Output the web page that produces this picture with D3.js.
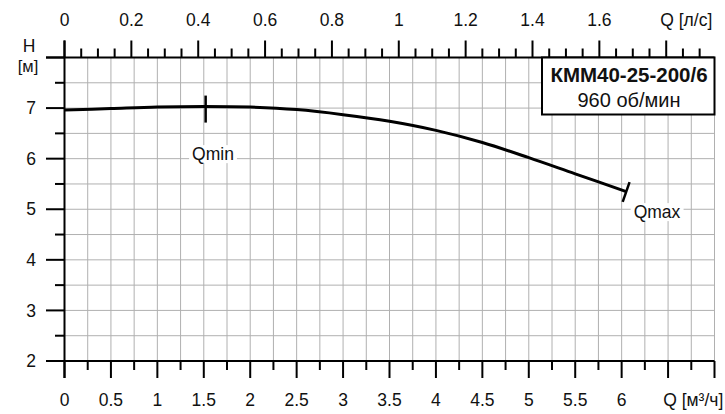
<!DOCTYPE html>
<html><head><meta charset="utf-8">
<script src="https://cdn.jsdelivr.net/npm/d3@7"></script>
<style>body{margin:0;background:#fff}svg{display:block}text{font-family:"Liberation Sans",Arial,sans-serif;fill:#111}</style>
</head><body><svg id="c" width="725" height="414"></svg>
<script>
// Data
const flowM3h = [0, 0.5, 1.0, 1.5, 2.0, 2.5, 3.0, 3.5, 4.0, 4.5, 5.0, 5.5, 6.05];
const headM   = [6.96, 6.99, 7.02, 7.03, 7.02, 6.97, 6.87, 6.74, 6.56, 6.32, 6.02, 5.70, 5.35];
const qMin = 1.52, qMax = 6.05;
const bottomTicks = [0, 0.5, 1, 1.5, 2, 2.5, 3, 3.5, 4, 4.5, 5, 5.5, 6];
const topTicks = [0, 0.2, 0.4, 0.6, 0.8, 1, 1.2, 1.4, 1.6];
const yTicks = [2, 3, 4, 5, 6, 7];
const titleLines = ["КММ40-25-200/6", "960 об/мин"];

const svg = d3.select("#c");
const x = d3.scaleLinear().domain([0, 7]).range([64.5, 714.5]);
const xl = d3.scaleLinear().domain([0, 7/3.6]).range([64.5, 714.5]);
const y = d3.scaleLinear().domain([2, 8]).range([361, 57.5]);

// grid
const g = svg.append("g").attr("stroke", "#b0b0b0").attr("stroke-width", 1);
d3.range(1, 29).forEach(i => { const v = i*0.25;
  g.append("line").attr("x1", x(v)).attr("x2", x(v)).attr("y1", y(8)).attr("y2", y(2)); });
d3.range(1, 12).forEach(i => { const v = 2 + i*0.5;
  g.append("line").attr("x1", x(0)).attr("x2", x(7)).attr("y1", y(v)).attr("y2", y(v)); });

// axes
const ax = svg.append("g").attr("stroke", "#000").attr("stroke-width", 2);
ax.append("line").attr("x1", 46).attr("x2", x(7)).attr("y1", y(2)).attr("y2", y(2));
ax.append("line").attr("x1", 46).attr("x2", x(7)).attr("y1", y(8)).attr("y2", y(8));
ax.append("line").attr("x1", x(0)).attr("x2", x(0)).attr("y1", y(8)-17).attr("y2", y(2)+17);
d3.range(0, 29).forEach(i => { const v = i*0.25; const major = i % 2 === 0;
  ax.append("line").attr("x1", x(v)).attr("x2", x(v)).attr("y1", y(2)).attr("y2", y(2) + (major ? 17 : 9)); });
d3.range(0, 39).forEach(i => { const v = i*0.05; const major = i % 4 === 0;
  ax.append("line").attr("x1", xl(v)).attr("x2", xl(v)).attr("y1", y(8)).attr("y2", y(8) - (major ? 17 : 9)); });
d3.range(0, 13).forEach(i => { const v = 2 + i*0.5; const major = i % 2 === 0;
  ax.append("line").attr("x1", x(0)).attr("x2", x(0) - (major ? 18.5 : 9.5)).attr("y1", y(v)).attr("y2", y(v)); });

const fs = 17.5;
bottomTicks.forEach(v => svg.append("text").attr("x", x(v)).attr("y", 400).attr("dy", "0.35em")
  .attr("text-anchor", "middle").attr("font-size", fs).text(v));
svg.append("text").attr("x", x(6.75) + 2).attr("y", 400).attr("dy", "0.35em").attr("text-anchor", "middle")
  .attr("font-size", fs).text("Q [м³/ч]");
topTicks.forEach(v => svg.append("text").attr("x", xl(v)).attr("y", 20).attr("dy", "0.35em")
  .attr("text-anchor", "middle").attr("font-size", fs).text(v));
svg.append("text").attr("x", xl(1.86)).attr("y", 20).attr("dy", "0.35em").attr("text-anchor", "middle")
  .attr("font-size", fs).text("Q [л/с]");
yTicks.forEach(v => svg.append("text").attr("x", 36).attr("y", y(v)).attr("dy", "0.35em")
  .attr("text-anchor", "end").attr("font-size", fs).text(v));
svg.append("text").attr("x", 29).attr("y", 46).attr("dy", "0.35em").attr("text-anchor", "middle").attr("font-size", fs).text("H");
svg.append("text").attr("x", 28).attr("y", 66).attr("dy", "0.35em").attr("text-anchor", "middle").attr("font-size", fs-1).text("[м]");

// curve
const pts = flowM3h.map((q, i) => [q, headM[i]]);
const line = d3.line().x(d => x(d[0])).y(d => y(d[1])).curve(d3.curveCatmullRom);
svg.append("path").attr("d", line(pts)).attr("fill", "none").attr("stroke", "#000").attr("stroke-width", 3);

// Qmin marker
const hAt = q => { const i = Math.min(d3.bisectRight(flowM3h, q) - 1, flowM3h.length - 2);
  const t = (q - flowM3h[i]) / (flowM3h[i+1] - flowM3h[i]); return headM[i] + t*(headM[i+1]-headM[i]); };
const qmx = x(qMin), qmy = y(hAt(qMin));
svg.append("line").attr("x1", qmx).attr("x2", qmx).attr("y1", qmy - 11).attr("y2", qmy + 16)
  .attr("stroke", "#000").attr("stroke-width", 2.5);
// Qmax marker perpendicular
const n = flowM3h.length;
const dx = x(flowM3h[n-1]) - x(flowM3h[n-2]), dy = y(headM[n-1]) - y(headM[n-2]);
const len = Math.hypot(dx, dy); const px = -dy/len, py = dx/len;
const ex = x(qMax), ey = y(headM[n-1]);
svg.append("line").attr("x1", ex - px*10).attr("y1", ey - py*10).attr("x2", ex + px*11).attr("y2", ey + py*11)
  .attr("stroke", "#000").attr("stroke-width", 2.5);

function label(txt, cx, cy) {
  const t = svg.append("text").attr("x", cx).attr("y", cy).attr("dy", "0.35em").attr("text-anchor", "middle")
    .attr("font-size", fs).text(txt);
  const b = t.node().getBBox();
  svg.insert("rect", () => t.node()).attr("x", b.x - 3).attr("y", b.y + 1).attr("width", b.width + 6).attr("height", b.height - 2).attr("fill", "#fff");
}
label("Qmin", 213, 154);
label("Qmax", 657, 212);

// title box
svg.append("rect").attr("x", 542).attr("y", y(8)).attr("width", x(7) - 542).attr("height", 57)
  .attr("fill", "#fff").attr("stroke", "#000").attr("stroke-width", 2);
svg.append("text").attr("x", 629).attr("y", 75).attr("dy", "0.35em").attr("text-anchor", "middle")
  .attr("font-size", 20.5).attr("font-weight", "bold").text(titleLines[0]);
svg.append("text").attr("x", 629).attr("y", 100).attr("dy", "0.35em").attr("text-anchor", "middle")
  .attr("font-size", 20).text(titleLines[1]);
</script></body></html>
